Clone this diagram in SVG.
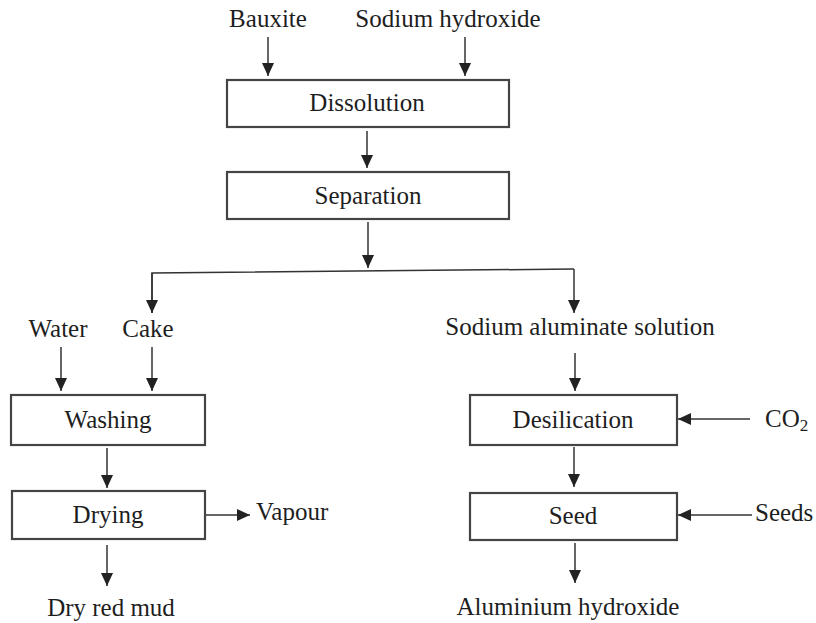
<svg xmlns="http://www.w3.org/2000/svg" width="816" height="623" viewBox="0 0 816 623">
<style>
text{font-family:'Liberation Serif','Times New Roman',Tinos,'DejaVu Serif',serif;font-size:25px;fill:#1e1e1e}
.box{fill:#fff;stroke:#444;stroke-width:2.2}
.c{text-anchor:middle}
.ln{fill:none;stroke:#333;stroke-width:1.5}
</style>
<defs>
<marker id="ah" viewBox="0 0 13 12" refX="13" refY="6" markerWidth="13" markerHeight="12" markerUnits="userSpaceOnUse" orient="auto">
<path d="M0,0 L13,6 L0,12 z" fill="#222"/>
</marker>
</defs>
<rect width="816" height="623" fill="#fff"/>
<g id="connectors" class="ln">
<line x1="268" y1="37" x2="268" y2="76" marker-end="url(#ah)"/>
<line x1="465" y1="37" x2="465" y2="76" marker-end="url(#ah)"/>
<line x1="367" y1="131" x2="367" y2="168" marker-end="url(#ah)"/>
<line x1="368" y1="222" x2="368" y2="268" marker-end="url(#ah)"/>
<polyline points="152,313 152,273 574,269"/>
<line x1="574" y1="269" x2="574" y2="313" marker-end="url(#ah)"/>
<line x1="152" y1="273" x2="152" y2="313" marker-end="url(#ah)"/>
<line x1="61" y1="347" x2="61" y2="391" marker-end="url(#ah)"/>
<line x1="152" y1="347" x2="152" y2="391" marker-end="url(#ah)"/>
<line x1="107" y1="448" x2="107" y2="488" marker-end="url(#ah)"/>
<line x1="206" y1="515" x2="250" y2="515" marker-end="url(#ah)"/>
<line x1="107" y1="545" x2="107" y2="586" marker-end="url(#ah)"/>
<line x1="575" y1="353" x2="575" y2="391" marker-end="url(#ah)"/>
<line x1="750" y1="419" x2="678" y2="419" marker-end="url(#ah)"/>
<line x1="574" y1="447" x2="574" y2="487" marker-end="url(#ah)"/>
<line x1="752" y1="515" x2="678" y2="515" marker-end="url(#ah)"/>
<line x1="575" y1="543" x2="575" y2="583" marker-end="url(#ah)"/>
</g>
<g id="bauxite"><text x="268" y="27" class="c">Bauxite</text></g>
<g id="naoh"><text x="448" y="27" class="c">Sodium hydroxide</text></g>
<g id="dissolution"><rect class="box" x="227" y="80" width="282" height="47"/><text x="367" y="111" class="c">Dissolution</text></g>
<g id="separation"><rect class="box" x="227" y="172" width="282" height="47"/><text x="368" y="204" class="c">Separation</text></g>
<g id="water"><text x="58" y="337" class="c">Water</text></g>
<g id="cake"><text x="148" y="337" class="c">Cake</text></g>
<g id="washing"><rect class="box" x="11" y="395" width="194" height="50"/><text x="108" y="428" class="c">Washing</text></g>
<g id="drying"><rect class="box" x="12" y="491" width="193" height="48"/><text x="108" y="523" class="c">Drying</text></g>
<g id="vapour"><text x="256" y="520">Vapour</text></g>
<g id="drymud"><text x="111" y="616" class="c">Dry red mud</text></g>
<g id="aluminate"><text x="580" y="335" class="c">Sodium aluminate solution</text></g>
<g id="desilication"><rect class="box" x="470" y="395" width="207" height="50"/><text x="573" y="428" class="c">Desilication</text></g>
<g id="co2"><text x="765" y="427">CO<tspan font-size="17" dy="4">2</tspan></text></g>
<g id="seed"><rect class="box" x="470" y="493" width="207" height="47"/><text x="573" y="524" class="c">Seed</text></g>
<g id="seeds"><text x="755" y="521">Seeds</text></g>
<g id="alohyd"><text x="568" y="615" class="c">Aluminium hydroxide</text></g>
</svg>
